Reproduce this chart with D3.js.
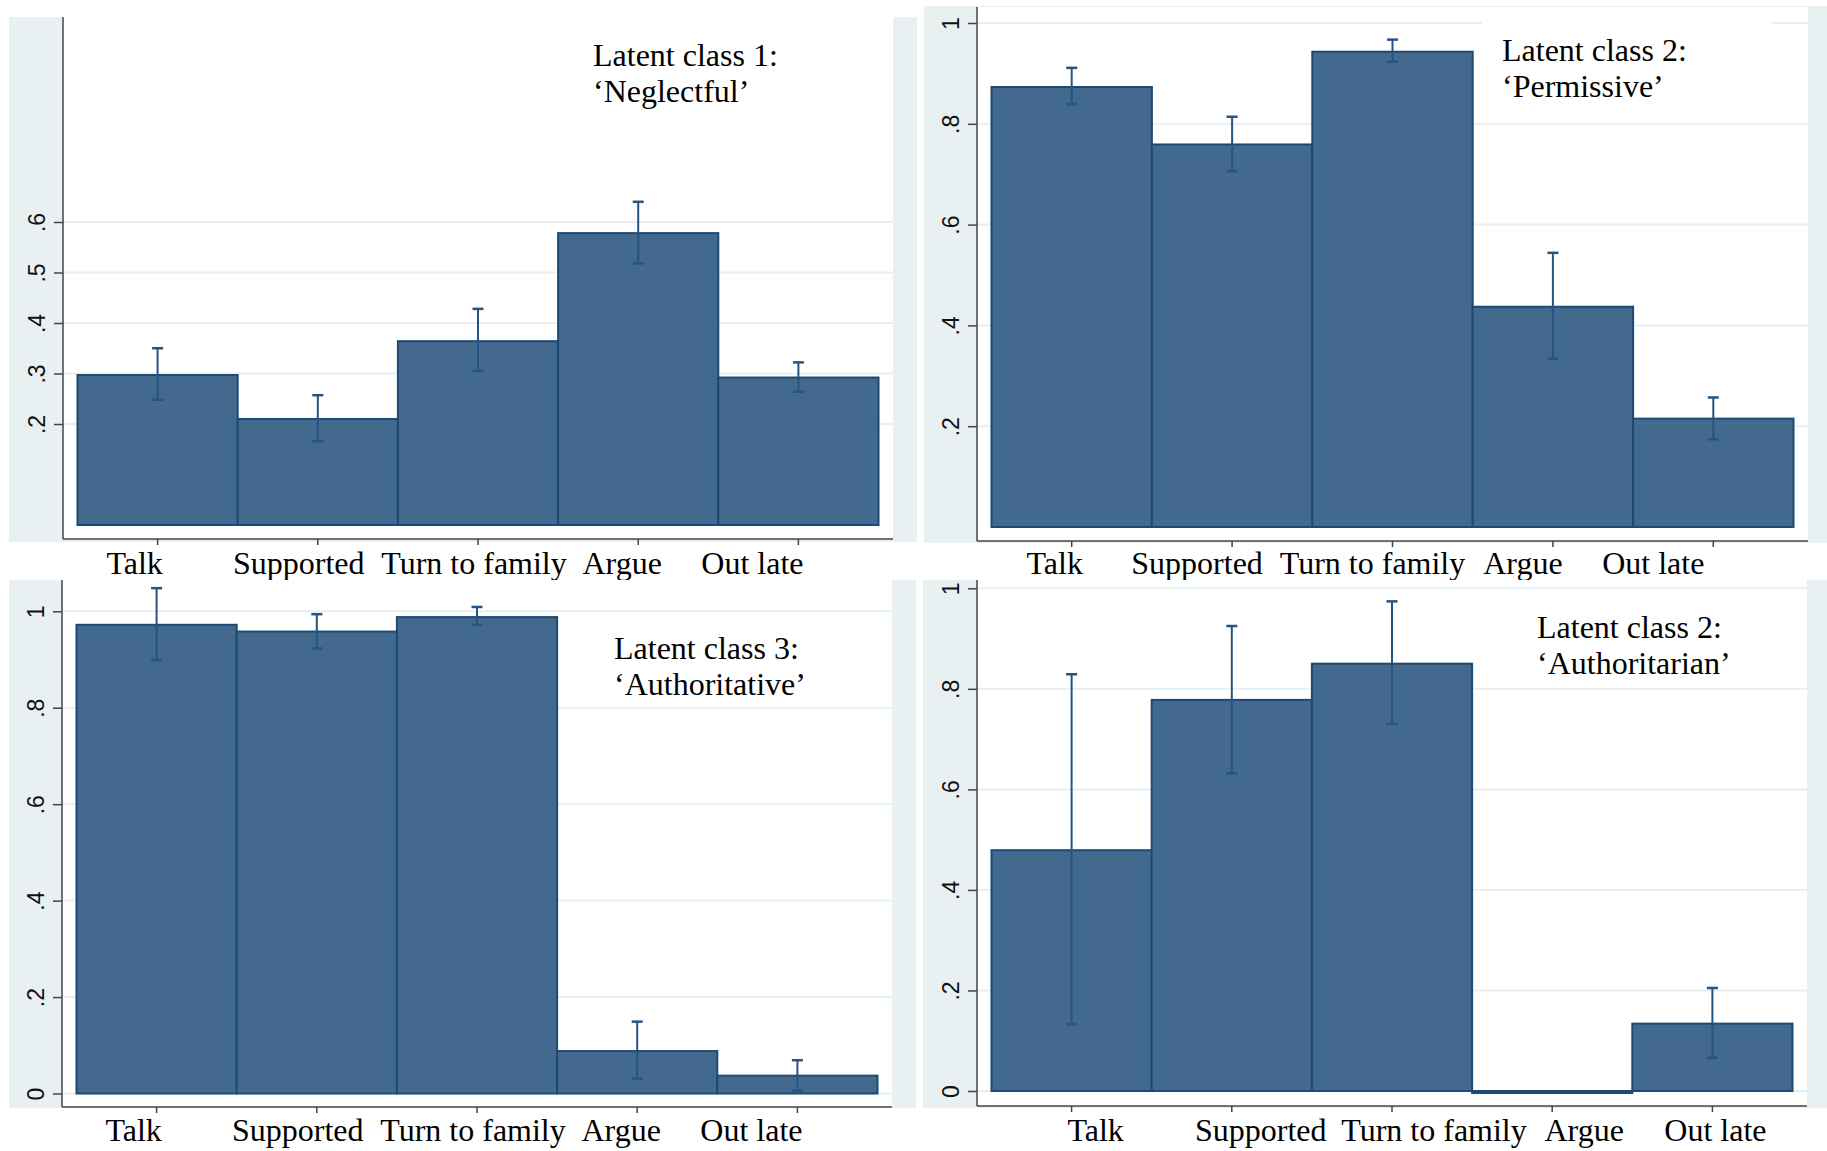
<!DOCTYPE html>
<html>
<head>
<meta charset="utf-8">
<script src="https://cdn.jsdelivr.net/npm/d3@7"></script>
<style>
  body { margin: 0; background: #fff; }
  svg { display: block; }
</style>
</head>
<body>
<script>
// categories on the x axis (same for all four panels)
const categories = ['Talk', 'Supported', 'Turn to family', 'Argue', 'Out late'];

// class 1 'Neglectful'
const neglectful   = [0.297, 0.210, 0.364, 0.578, 0.292];
const neglectfulLo = [0.248, 0.166, 0.305, 0.518, 0.264];
const neglectfulHi = [0.350, 0.257, 0.428, 0.640, 0.322];

// class 2 'Permissive'
const permissive   = [0.873, 0.759, 0.943, 0.437, 0.215];
const permissiveLo = [0.839, 0.706, 0.923, 0.334, 0.174];
const permissiveHi = [0.911, 0.814, 0.967, 0.544, 0.257];

// class 3 'Authoritative'
const authoritative   = [0.972, 0.958, 0.988, 0.088, 0.037];
const authoritativeLo = [0.899, 0.923, 0.972, 0.031, 0.006];
const authoritativeHi = [1.048, 0.994, 1.009, 0.149, 0.069];

// class 2 'Authoritarian'
const authoritarian   = [0.479, 0.778, 0.850, -0.004, 0.134];
const authoritarianLo = [0.133, 0.632, 0.730, null, 0.066];
const authoritarianHi = [0.829, 0.925, 0.974, null, 0.205];

// y tick labels
const ticksPartial = [0.2, 0.3, 0.4, 0.5, 0.6];
const ticksFull = [0, 0.2, 0.4, 0.6, 0.8, 1];

const BG = '#e8f0f2';
const GRID = '#e6eff1';
const FILL = '#436a8e';
const EDGE = '#1d4a73';
const ERR = '#265482';

const panels = [
  { bg: [9, 17, 917, 542], plot: [63, 17, 893, 539], yRange: [525, 20], ticks: ticksPartial,
    vals: neglectful, lo: neglectfulLo, hi: neglectfulHi,
    title: ['Latent class 1:', '‘Neglectful’'], tx: 593, ty: 66,
    labelY: 574, shifts: [-23, -19, -4, -16, -46] },
  { bg: [924, 6, 1827, 543], plot: [977, 7, 1808, 541], yRange: [527, 23], ticks: ticksFull.slice(1),
    vals: permissive, lo: permissiveLo, hi: permissiveHi,
    title: ['Latent class 2:', '‘Permissive’'], tx: 1502, ty: 61, box: [1482, 12, 1772, 112],
    labelY: 574, shifts: [-17, -35, -20, -30, -60] },
  { bg: [9, 580, 916, 1108], plot: [62, 580, 892, 1107], yRange: [1093.5, 611.3], ticks: ticksFull,
    vals: authoritative, lo: authoritativeLo, hi: authoritativeHi,
    title: ['Latent class 3:', '‘Authoritative’'], tx: 614, ty: 659,
    labelY: 1141, shifts: [-23, -19, -4, -16, -46] },
  { bg: [923, 580, 1827, 1108], plot: [977, 580, 1807, 1106], yRange: [1091, 588.3], ticks: ticksFull,
    vals: authoritarian, lo: authoritarianLo, hi: authoritarianHi,
    title: ['Latent class 2:', '‘Authoritarian’'], tx: 1537, ty: 638,
    labelY: 1141, shifts: [24, 29, 42, 32, 3] }
];

const svg = d3.select('body').append('svg')
  .attr('width', 1827)
  .attr('height', 1151);

svg.append('rect').attr('width', 1827).attr('height', 1151).attr('fill', '#fff');

const fmt = d => d === 0 ? '0' : d === 1 ? '1' : String(d).replace('0.', '.');

panels.forEach(p => {
  const [bx0, by0, bx1, by1] = p.bg;
  const [px0, py0, px1, py1] = p.plot;
  const g = svg.append('g');

  g.append('rect')
    .attr('x', bx0).attr('y', by0)
    .attr('width', bx1 - bx0).attr('height', by1 - by0)
    .attr('fill', BG);
  g.append('rect')
    .attr('x', px0).attr('y', py0)
    .attr('width', px1 - px0).attr('height', py1 - py0)
    .attr('fill', '#fff');

  const x = d3.scaleBand()
    .domain(categories)
    .range([px0 + 14.5, px1 - 14.5])
    .padding(0);
  const y = d3.scaleLinear().domain([0, 1]).range(p.yRange);

  // gridlines
  g.selectAll('.grid')
    .data(p.ticks)
    .join('line')
    .attr('x1', px0).attr('x2', px1)
    .attr('y1', d => y(d)).attr('y2', d => y(d))
    .attr('stroke', GRID)
    .attr('stroke-width', 2);

  // title box hides gridline in panel 2
  if (p.box) {
    g.append('rect')
      .attr('x', p.box[0]).attr('y', p.box[1])
      .attr('width', p.box[2] - p.box[0]).attr('height', p.box[3] - p.box[1])
      .attr('fill', '#fff');
  }

  // bars
  const rows = categories.map((c, i) => ({ c, v: p.vals[i], lo: p.lo[i], hi: p.hi[i] }));
  g.selectAll('.bar')
    .data(rows)
    .join('rect')
    .attr('class', 'bar')
    .attr('x', d => x(d.c))
    .attr('width', x.bandwidth())
    .attr('y', d => Math.min(y(d.v), y(0)))
    .attr('height', d => Math.abs(y(0) - y(d.v)))
    .attr('fill', FILL)
    .attr('stroke', EDGE)
    .attr('stroke-width', 2);

  // error bars
  const eb = rows.filter(d => d.lo !== null);
  const cx = d => x(d.c) + x.bandwidth() / 2;
  g.selectAll('.err')
    .data(eb)
    .join('line')
    .attr('x1', cx).attr('x2', cx)
    .attr('y1', d => y(d.lo)).attr('y2', d => y(d.hi))
    .attr('stroke', ERR).attr('stroke-width', 2);
  ['lo', 'hi'].forEach(k => {
    g.selectAll('.cap-' + k)
      .data(eb)
      .join('line')
      .attr('x1', d => cx(d) - 5.5).attr('x2', d => cx(d) + 5.5)
      .attr('y1', d => y(d[k])).attr('y2', d => y(d[k]))
      .attr('stroke', ERR).attr('stroke-width', 2.5);
  });

  // y axis
  const yAxis = d3.axisLeft(y)
    .tickValues(p.ticks)
    .tickSize(9)
    .tickFormat(fmt);
  const ya = g.append('g')
    .attr('transform', `translate(${px0},0)`)
    .call(yAxis);
  ya.select('.domain').remove();
  ya.selectAll('.tick line').attr('stroke', '#444').attr('stroke-width', 1.5);
  ya.selectAll('.tick text')
    .attr('transform', 'rotate(-90, -26, 0)')
    .attr('x', -26)
    .attr('dy', 0)
    .attr('y', 0)
    .attr('text-anchor', 'middle')
    .attr('dominant-baseline', 'central')
    .style('font-family', '"Liberation Sans", Arial, sans-serif')
    .style('font-size', '23px')
    .attr('fill', '#111');
  g.append('line')
    .attr('x1', px0).attr('x2', px0)
    .attr('y1', py0).attr('y2', py1)
    .attr('stroke', '#444').attr('stroke-width', 1.5);

  // x axis
  const xAxis = d3.axisBottom(x).tickSize(6).tickFormat('');
  const xa = g.append('g')
    .attr('transform', `translate(0,${py1})`)
    .call(xAxis);
  xa.select('.domain').remove();
  xa.selectAll('.tick line').attr('stroke', '#444').attr('stroke-width', 1.5);
  g.append('line')
    .attr('x1', px0).attr('x2', px1)
    .attr('y1', py1).attr('y2', py1)
    .attr('stroke', '#444').attr('stroke-width', 1.5);

  // category labels (placed as in the original, not centred on ticks)
  svg.selectAll(null)
    .data(categories)
    .enter()
    .append('text')
    .attr('x', (d, i) => x(d) + x.bandwidth() / 2 + p.shifts[i])
    .attr('y', p.labelY)
    .attr('text-anchor', 'middle')
    .style('font-family', '"Liberation Serif", "Times New Roman", serif')
    .style('font-size', '32px')
    .attr('fill', '#000')
    .text(d => d);

  // title
  const t = g.append('text')
    .attr('x', p.tx)
    .attr('y', p.ty)
    .style('font-family', '"Liberation Serif", "Times New Roman", serif')
    .style('font-size', '32px')
    .attr('fill', '#000');
  p.title.forEach((s, i) => {
    t.append('tspan').attr('x', p.tx).attr('dy', i === 0 ? 0 : 36).text(s);
  });
});
</script>
</body>
</html>
